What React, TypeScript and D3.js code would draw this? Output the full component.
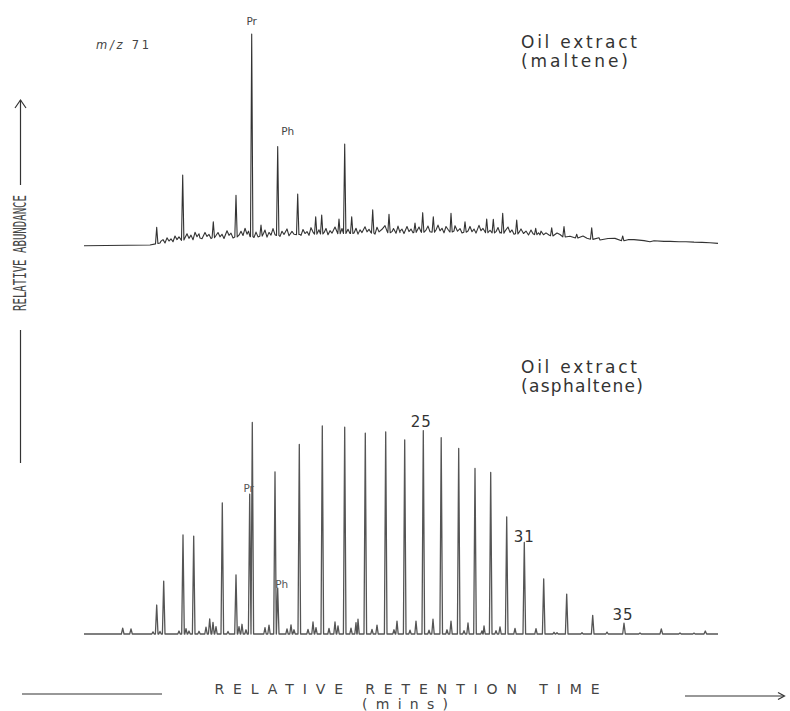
import React from 'react';
import * as d3 from 'd3';

// retention time in minutes, abundance in % of the tallest peak
const malteneBaseline: [number, number][] = [
  [0, 0], [6.6, 0.3], [7.6, 1.3], [11.6, 3.6], [16.6, 4.3], [21.6, 5.3], [26.6, 5.8],
  [31.6, 6.2], [36.6, 6.5], [41.6, 6.0], [45.6, 5.1], [51.6, 2.7], [56.6, 1.9], [63.4, 1.1],
];

// main peaks (time, top abundance)
const maltenePeaks: [number, number][] = [
  [7.27, 8.7], [9.87, 33.4], [12.93, 11.3], [15.2, 23.8], [16.77, 100], [17.7, 9.8],
  [19.37, 46.8], [21.37, 24.4], [23.17, 13.7], [23.77, 14.5], [25.5, 12.6], [26.07, 48],
  [26.77, 13.7], [28.87, 16.9], [30.5, 14.8], [33.1, 10.7], [33.87, 15.6], [34.93, 13.7],
  [36.7, 15.3], [38.1, 11.3], [40.27, 12.6], [40.93, 12.5], [41.87, 15.3], [43.27, 12.1],
  [45.17, 8.2], [46.77, 8.4], [48.0, 9.0], [49.27, 5.4], [50.77, 8.5], [53.87, 4.6],
];

// small unresolved ripples and dips (time, height above baseline)
const malteneRipple: [number, number][] = [
  [7.7, 0.8], [7.9, 1.4], [8.1, -0.3], [8.3, 2.0], [8.5, 0.4], [8.7, 1.3], [8.9, -0.2],
  [9.1, 2.4], [9.3, 0.6], [9.5, 1.8], [10.1, 1.0], [10.3, 2.8], [10.5, 0.5], [10.7, 1.9],
  [10.9, -0.4], [11.1, 3.0], [11.3, 0.8], [11.5, 2.1], [11.8, -0.3], [12.1, 2.6], [12.3, 0.7],
  [12.5, 1.6], [12.7, -0.4], [13.2, 1.0], [13.4, 2.4], [13.6, 0.3], [13.8, 1.5], [14.0, -0.5],
  [14.3, 3.1], [14.5, 0.9], [14.7, 1.9], [14.9, -0.4], [15.5, 0.8], [15.7, 2.6], [15.9, 0.6],
  [16.1, 4.0], [16.3, 1.2], [16.45, 2.6], [17.0, -0.5], [17.2, 2.0], [17.4, -0.3], [17.95, 1.2],
  [18.1, 2.8], [18.3, -0.6], [18.5, 1.6], [18.7, 0.3], [18.9, 3.3], [19.1, 0.4], [19.6, -0.5],
  [19.8, 1.9], [20.0, 0.3], [20.3, 2.9], [20.5, -0.4], [20.8, 1.6], [21.0, 0.2], [21.7, -0.4],
  [21.9, 2.3], [22.1, 0.4], [22.3, 1.3], [22.5, -0.5], [22.7, 3.1], [22.9, 1.0], [23.5, 2.0],
  [24.0, 0.6], [24.2, 2.6], [24.4, -0.4], [24.6, 1.5], [24.8, 0.3], [25.1, 3.2], [25.3, 0.9],
  [25.8, 2.4], [26.4, 2.0], [27.0, 0.2], [27.2, 2.4], [27.4, -0.4], [27.6, 1.6], [27.8, 0.3],
  [28.1, 3.0], [28.3, 0.6], [28.5, 1.8], [28.7, 0.2], [29.1, -0.5], [29.3, 2.7], [29.5, 0.5],
  [29.8, 1.7], [30.1, 3.4], [30.3, 0.8], [30.8, 0.5], [30.95, 2.0], [31.2, -0.3], [31.4, 3.1],
  [31.6, 0.7], [31.8, 1.6], [32.0, -0.5], [32.3, 2.8], [32.5, 0.4], [32.7, 1.6], [32.9, -0.2],
  [33.5, 2.5], [33.7, 0.3], [34.2, 1.0], [34.4, 2.9], [34.6, 0.2], [35.2, 1.0], [35.4, 3.3],
  [35.6, 0.6], [35.8, 1.8], [36.0, -0.4], [36.2, 2.6], [36.45, 0.8], [37.0, 0.5], [37.1, 3.0],
  [37.35, 0.4], [37.6, 1.7], [37.8, -0.4], [38.4, 0.6], [38.6, 2.8], [38.8, 0.3], [39.0, 1.6],
  [39.2, -0.3], [39.5, 3.4], [39.7, 0.9], [39.9, 2.0], [40.1, 0.4], [40.6, 1.2], [41.2, 0.6],
  [41.4, 2.6], [41.6, 0.4], [42.1, 1.0], [42.4, 3.0], [42.6, 0.5], [42.8, 1.7], [43.0, -0.3],
  [43.5, 0.7], [43.7, 2.4], [43.95, 0.3], [44.2, 1.5], [44.45, -0.3], [44.7, 2.1], [44.9, 0.4],
  [45.45, 1.0], [45.7, 1.8], [45.95, 0.2], [46.2, 1.2], [46.5, 0.3], [47.3, 1.6], [47.6, 1.0],
  [48.6, 0.6], [49.9, 1.2], [50.3, 0.3], [51.5, 1.0], [52.0, 0.4], [52.4, 0.8], [53.1, 1.0],
  [54.4, 0.6], [55.0, 0.7], [56.0, 0.4], [57.0, 0.5], [58.0, 0.3], [58.6, 0.4], [59.5, 0.3],
  [60.2, 0.4], [61.0, 0.3], [61.8, 0.3], [62.6, 0.2],
];

const asphalteneBaseline: [number, number][] = [[0, 0], [63.4, 0]];

const asphaltenePeaks: [number, number][] = [
  [3.87, 2.8], [4.7, 2.4], [7.27, 13.7], [7.97, 25.0], [9.9, 46.8], [10.97, 46.3],
  [12.57, 7.1], [13.83, 62.0], [15.2, 28.0], [16.57, 66.1], [16.83, 100], [19.1, 76.7],
  [19.37, 21.7], [21.53, 89.6], [23.83, 98.4], [26.07, 97.8], [28.13, 95.0], [30.17, 95.6],
  [32.07, 91.8], [33.93, 96.2], [35.72, 92.8], [37.47, 87.7], [39.1, 78.3], [40.67, 76.4],
  [42.27, 55.4], [44.03, 43.3], [45.97, 26.1], [48.27, 18.9], [50.87, 8.8], [54.0, 5.1],
  [57.73, 2.4], [62.13, 1.4],
];

const asphalteneRipple: [number, number][] = [
  [6.9, 1.0], [7.6, 1.2], [9.5, 1.4], [10.2, 2.5], [10.5, 1.4], [11.5, 1.3], [12.2, 3.2],
  [12.9, 5.5], [13.2, 3.5], [14.4, 1.2], [15.5, 3.5], [15.8, 4.6], [16.2, 2.0], [18.1, 3.0],
  [18.5, 4.2], [20.3, 2.4], [20.7, 4.3], [21.0, 2.0], [22.4, 2.2], [22.9, 5.7], [23.2, 3.0],
  [24.5, 2.6], [25.1, 5.7], [25.4, 3.8], [26.7, 2.8], [27.2, 5.4], [27.4, 7.0], [28.8, 2.2],
  [29.3, 4.2], [31.0, 2.0], [31.3, 6.1], [32.6, 1.8], [33.2, 6.1], [34.5, 1.8], [34.9, 7.0],
  [36.3, 2.0], [36.7, 6.1], [38.0, 1.6], [38.4, 5.2], [39.8, 1.5], [40.0, 3.8], [41.2, 1.6],
  [41.6, 3.4], [43.1, 2.7], [45.2, 2.5], [47.0, 0.8], [47.3, 0.6], [49.8, 0.6], [52.3, 0.9],
  [55.6, 0.5], [59.6, 0.5], [61.0, 0.4],
];

const maltenePeakLabels = [{ text: 'Pr', t: 16.77, v: 100, dx: 0, dy: -9 }, { text: 'Ph', t: 19.37, v: 46.8, dx: 10, dy: -12 }];
const asphaltenePeakLabels = [{ text: 'Pr', t: 16.57, v: 66.1, dx: -1, dy: -2 }, { text: 'Ph', t: 19.37, v: 21.7, dx: 4, dy: 0 }];
const carbonLabels = [{ text: '25', t: 33.93, v: 96.2, dx: -2, dy: -4 }, { text: '31', t: 44.03, v: 43.3, dx: 0, dy: 0 }, { text: '35', t: 54.0, v: 5.1, dx: -1, dy: -3 }];

const W = 790;
const H = 711;
const FONT = '"DejaVu Sans", Verdana, sans-serif';

const x = d3.scaleLinear().domain([0, 63.4]).range([84, 718]);
const yTop = d3.scaleLinear().domain([0, 100]).range([245.7, 34]);
const yBot = d3.scaleLinear().domain([0, 100]).range([634, 422.5]);

function buildTrace(knots: [number, number][], peaks: [number, number][], ripple: [number, number][], hw: number) {
  const base = d3.scaleLinear().domain(knots.map(k => k[0])).range(knots.map(k => k[1])).clamp(true);
  const pts: [number, number][] = knots.map(k => [k[0], k[1]]);
  peaks.forEach(([t, v]) => {
    pts.push([t - hw, base(t - hw)], [t, v], [t + hw, base(t + hw)]);
  });
  ripple.forEach(([t, h]) => {
    pts.push([t, base(t) + h]);
  });
  return pts.sort((a, b) => a[0] - b[0]);
}

export default function App() {
  const lineTop = d3.line<[number, number]>().x(d => x(d[0])).y(d => yTop(d[1]));
  const lineBot = d3.line<[number, number]>().x(d => x(d[0])).y(d => yBot(d[1]));

  const topPts = buildTrace(malteneBaseline, maltenePeaks, malteneRipple, 0.12);
  const botPts = buildTrace(asphalteneBaseline, asphaltenePeaks, asphalteneRipple.flatMap(([t, h]) => [[t - 0.12, 0], [t, h], [t + 0.12, 0]] as [number, number][]), 0.13);

  return (
    <svg width={W} height={H} style={{ position: 'absolute', left: 0, top: 0, background: '#fff' }} fontFamily={FONT}>
      <rect width={W} height={H} fill="#fff" />

      {/* traces */}
      <path d={lineTop(topPts) || ''} fill="none" stroke="#333" strokeWidth={1.1} strokeLinejoin="round" />
      <path d={lineBot(botPts) || ''} fill="none" stroke="#555" strokeWidth={1.3} strokeLinejoin="round" />

      {/* maltene labels */}
      <text x={96} y={49} fontSize={11.5} fill="#444" textLength={53} lengthAdjust="spacing">
        <tspan fontStyle="italic">m/z</tspan> 71
      </text>
      <text x={521} y={47.5} fontSize={17} fill="#333" textLength={116} lengthAdjust="spacing">Oil extract</text>
      <text x={521} y={66.5} fontSize={17} fill="#333" textLength={107} lengthAdjust="spacing">(maltene)</text>
      {maltenePeakLabels.map(l => (
        <text key={'m' + l.text} x={x(l.t) + l.dx} y={yTop(l.v) + l.dy} fontSize={10.5} fill="#444" textAnchor="middle">{l.text}</text>
      ))}

      {/* asphaltene labels */}
      <text x={521} y={373} fontSize={17} fill="#333" textLength={116} lengthAdjust="spacing">Oil extract</text>
      <text x={521} y={391.5} fontSize={17} fill="#333" textLength={122} lengthAdjust="spacing">(asphaltene)</text>
      {asphaltenePeakLabels.map(l => (
        <text key={'a' + l.text} x={x(l.t) + l.dx} y={yBot(l.v) + l.dy} fontSize={10.5} fill="#555" textAnchor="middle">{l.text}</text>
      ))}
      {carbonLabels.map(l => (
        <text key={l.text} x={x(l.t) + l.dx} y={yBot(l.v) + l.dy} fontSize={15} fill="#333" textAnchor="middle" letterSpacing={1}>{l.text}</text>
      ))}

      {/* y axis */}
      <g stroke="#333" strokeWidth={1.2} fill="none">
        <line x1={20.5} y1={100} x2={20.5} y2={185} />
        <polyline points="15,108 20.5,100 26,108" />
        <line x1={20.5} y1={330} x2={20.5} y2={463} />
      </g>
      <text transform="translate(25.5,253) rotate(-90)" fontSize={17} fill="#444" textAnchor="middle"
        fontFamily='"DejaVu Sans Mono", monospace' textLength={116} lengthAdjust="spacingAndGlyphs">RELATIVE ABUNDANCE</text>

      {/* x axis */}
      <g stroke="#333" strokeWidth={1.2} fill="none">
        <line x1={22} y1={694} x2={162} y2={694} />
        <line x1={685} y1={696} x2={784} y2={696} />
        <polyline points="778,692.5 784.5,696 778,699.5" />
      </g>
      <text x={407} y={694} fontSize={14} fill="#444" textAnchor="middle" textLength={385} lengthAdjust="spacing">RELATIVE RETENTION TIME</text>
      <text x={405} y={709} fontSize={14} fill="#444" textAnchor="middle" textLength={86} lengthAdjust="spacing">(mins)</text>
    </svg>
  );
}
